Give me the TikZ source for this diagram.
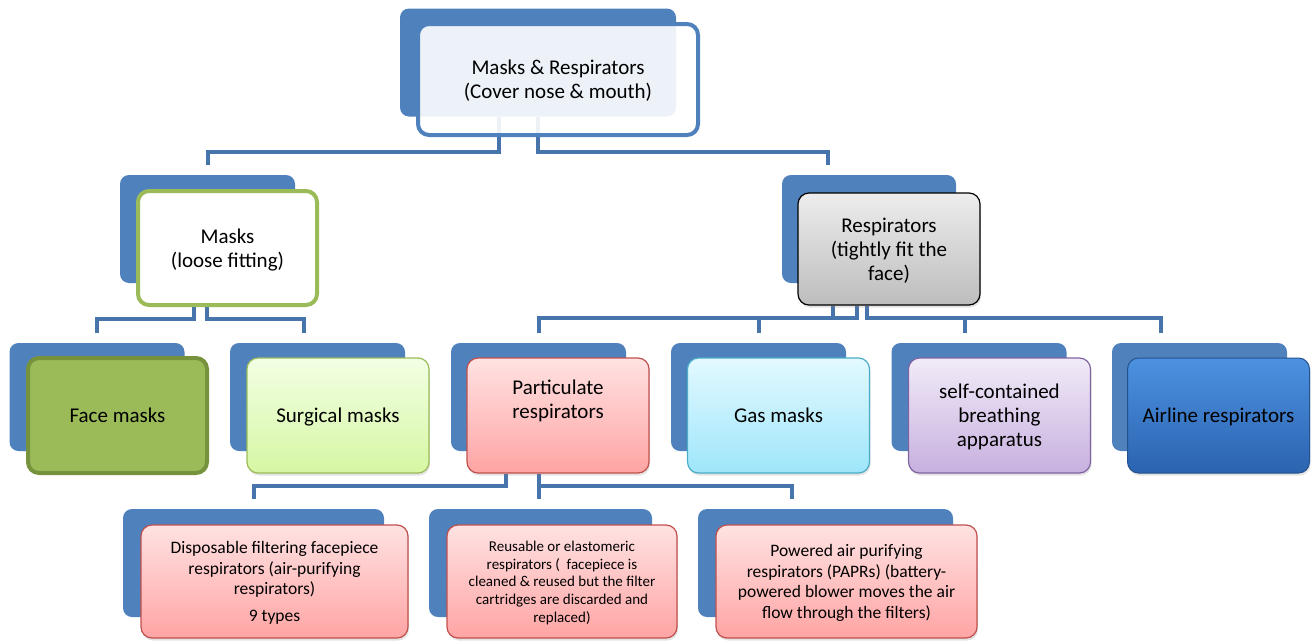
\documentclass[tikz,border=0pt]{standalone}
\usepackage{fontspec}
\setmainfont{Carlito}
\usetikzlibrary{shadows,backgrounds}
\definecolor{backblue}{HTML}{4F81BD}
\definecolor{linkblue}{HTML}{4674AB}
\definecolor{maskgreen}{HTML}{9BBB59}
\definecolor{darkgreen}{HTML}{76923C}
\definecolor{grayhi}{HTML}{EDEDED}
\definecolor{graylo}{HTML}{BDBDBD}
\definecolor{surghi}{HTML}{F2FFE4}
\definecolor{surglo}{HTML}{D6F7A3}
\definecolor{parthi}{HTML}{FFE2E2}
\definecolor{partlo}{HTML}{FFA4A4}
\definecolor{partline}{HTML}{C0504D}
\definecolor{gashi}{HTML}{E3F9FF}
\definecolor{gaslo}{HTML}{9EE6FB}
\definecolor{gasline}{HTML}{4BACC6}
\definecolor{scbahi}{HTML}{F1EBF8}
\definecolor{scbalo}{HTML}{C7B0DF}
\definecolor{scbaline}{HTML}{8064A2}
\definecolor{airhi}{HTML}{4C92E0}
\definecolor{airlo}{HTML}{2B63B0}
\definecolor{airedge}{HTML}{24528F}
\tikzset{
  backcard/.style={rectangle, rounded corners=9pt, fill=backblue, inner sep=0pt,
    minimum height=108pt, minimum width=#1},
  frontcard/.style={rectangle, rounded corners=11pt, align=center, inner sep=0pt, text depth=0pt,
    minimum width=182pt, minimum height=115pt, font=\fontsize{21}{24}\selectfont},
  leafcard/.style={frontcard, minimum height=113pt, font=\fontsize{17.5}{20.5}\selectfont},
  soft/.style={drop shadow={opacity=0.22, shadow xshift=1pt, shadow yshift=-2.5pt}},
  redcard/.style={soft, draw=partline, line width=1.2pt, top color=parthi, bottom color=partlo},
  conn/.style={draw=linkblue, line width=4pt, shorten >=10pt},
}

\begin{document}
\begin{tikzpicture}[x=1pt,y=-1pt]
  \useasboundingbox (0,0) rectangle (1313,640);
  \clip (0,0) rectangle (1313,640);
  \coordinate (bustop) at (0,152);
  \coordinate (busmask) at (0,319);
  \coordinate (busresp) at (0,318);
  \coordinate (buspart) at (0,486);

  % Root
  \node[backcard=276pt] (rootback) at (538,62.5) {};
  \node[frontcard, draw=backblue, line width=4pt, fill=white, fill opacity=0.9, text opacity=1,
    minimum width=280pt, minimum height=111pt] (root) at (558,79.5)
    {Masks \& Respirators\\(Cover nose \& mouth)};

  % Masks / Respirators
  \node[backcard=175pt] (maskback) at (207.5,229) {};
  \node[frontcard, draw=maskgreen, line width=4pt, fill=white,
    minimum width=179pt, minimum height=114pt] (masks) at (227.5,248) {Masks\\(loose fitting)};
  \node[backcard=174pt] (respback) at (869,229) {};
  \node[frontcard, soft, draw=black, line width=1.2pt, top color=grayhi, bottom color=graylo,
    minimum height=112pt] (resp) at (889,249) {Respirators\\(tightly fit the\\face)};

  % Third row
  \foreach \nm/\cx in {face/97, surg/317.5, part/538.5, gas/758.5, scba/979, air/1199.5}
    \node[backcard=175pt] (\nm back) at (\cx,397) {};
  \node[frontcard, draw=darkgreen, line width=4pt, fill=maskgreen, minimum width=179pt,
    minimum height=115pt] (face) at (117.5,415.5) {Face masks};
  \node[frontcard, soft, draw=maskgreen, line width=1.2pt, top color=surghi, bottom color=surglo]
    (surg) at (338,415.5) {Surgical masks};
  \node[frontcard, redcard] (part) at (558,415.5) {};
  \node[align=center, text depth=0pt, font=\fontsize{21}{24}\selectfont] (parttext) at (558,399)
    {Particulate\\respirators};
  \node[frontcard, soft, draw=gasline, line width=1.2pt, top color=gashi, bottom color=gaslo]
    (gas) at (778.5,415.5) {Gas masks};
  \node[frontcard, soft, draw=scbaline, line width=1.2pt, top color=scbahi, bottom color=scbalo]
    (scba) at (999.5,415.5) {self-contained\\breathing\\apparatus};
  \node[frontcard, soft, draw=airedge, line width=1pt, top color=airhi, bottom color=airlo]
    (air) at (1218.5,415.5) {Airline respirators};

  % Fourth row
  \node[backcard=261pt] (dispback) at (253.5,563) {};
  \node[backcard=223pt] (reusback) at (540.5,563) {};
  \node[backcard=255pt] (powback) at (825.5,563) {};
  \node[leafcard, redcard, minimum width=267pt] (disp) at (274.5,581.5)
    {Disposable filtering facepiece\\respirators (air-purifying\\respirators)\\[6pt]9 types};
  \node[leafcard, redcard, minimum width=230pt, font=\fontsize{15}{17.7}\selectfont] (reus) at (562,581.5)
    {Reusable or elastomeric\\respirators (\ \ facepiece is\\cleaned \& reused but the filter\\cartridges are discarded and\\replaced)};
  \node[leafcard, redcard, minimum width=261pt] (pow) at (846.5,581.5)
    {Powered air purifying\\respirators (PAPRs) (battery-\\powered blower moves the air\\flow through the filters)};

  % Connectors
  \begin{scope}[on background layer]
    \draw[conn] (rootback.south -| 499,0) |- (maskback.north |- bustop) -- (maskback.north);
    \draw[conn] (rootback.south -| 538,0) |- (828,152) -- (respback.north -| 828,0);
    \draw[conn] (masks.south -| 194,0) |- (faceback.north |- busmask) -- (faceback.north);
    \draw[conn] (masks.south -| 207,0) |- (304,319) -- (surgback.north -| 304,0);
    \draw[conn] (resp.south -| 857,0) |- (partback.north |- busresp) -- (partback.north);
    \draw[conn] (resp.south -| 833,0) |- (gasback.north |- busresp) -- (gasback.north);
    \draw[conn] (resp.south -| 867,0) |- (965,318) -- (scbaback.north -| 965,0);
    \draw[conn] (resp.south -| 867,0) |- (1161,318) -- (airback.north -| 1161,0);
    \draw[conn] (part.south -| 506,0) |- (dispback.north |- buspart) -- (dispback.north);
    \draw[conn] (part.south -| 539,0) -- (reusback.north -| 539,0);
    \draw[conn] (part.south -| 539,0) |- (792,486) -- (powback.north -| 792,0);
  \end{scope}
\end{tikzpicture}
\end{document}
